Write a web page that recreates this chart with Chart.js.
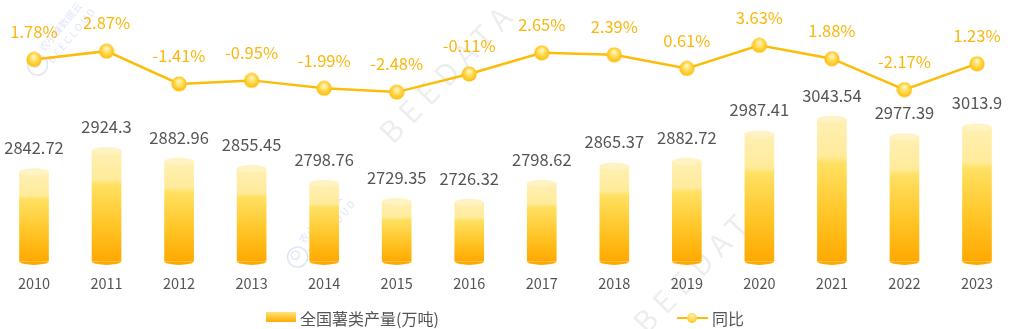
<!DOCTYPE html>
<html>
<head>
<meta charset="utf-8">
<script src="https://cdn.jsdelivr.net/npm/chart.js@4.4.1/dist/chart.umd.min.js"></script>
<style>
    body { margin: 0; background: #fff; }
    #wrap { position: relative; width: 1012px; height: 329px; font-family: "Noto Sans CJK SC", "Noto Sans", sans-serif; }
    #myChart { position: absolute; left: 0; top: 0; }
    .lg-text { position: absolute; top: 307px; font-size: 16px; line-height: 22px; color: #555; }
    #lgBar { position: absolute; left: 266px; top: 312px; width: 30px; height: 10px; background: linear-gradient(#ffe27a, #ffad00); }
    #lgLine { position: absolute; left: 677px; top: 317px; width: 31px; height: 2px; background: #fbbd0a; }
    #lgDot { position: absolute; left: 687px; top: 313px; width: 10px; height: 10px; border-radius: 50%; background: radial-gradient(circle at 50% 30%, #fff0a8, #ffbb00); }
</style>
</head>
<body>
<div id="wrap">
    <canvas id="myChart" width="1012" height="329"></canvas>
    <div id="lgBar"></div>
    <div class="lg-text" style="left:300px;">全国薯类产量(万吨)</div>
    <div id="lgLine"></div>
    <div id="lgDot"></div>
    <div class="lg-text" style="left:712px;">同比</div>
</div>
<script>
var years = ['2010', '2011', '2012', '2013', '2014', '2015', '2016', '2017', '2018', '2019', '2020', '2021', '2022', '2023'];
var output = [2842.72, 2924.3, 2882.96, 2855.45, 2798.76, 2729.35, 2726.32, 2798.62, 2865.37, 2882.72, 2987.41, 3043.54, 2977.39, 3013.9];
var yoy = [1.78, 2.87, -1.41, -0.95, -1.99, -2.48, -0.11, 2.65, 2.39, 0.61, 3.63, 1.88, -2.17, 1.23];

var FONT = '"Noto Sans CJK SC", "Noto Sans", sans-serif';

// little gradient ball used as the point style of the line
function makeDot() {
    var c = document.createElement('canvas');
    c.width = 16; c.height = 16;
    var g = c.getContext('2d');
    var grad = g.createRadialGradient(8, 5, 1, 8, 8, 8);
    grad.addColorStop(0, '#fff3b8');
    grad.addColorStop(0.5, '#ffd84a');
    grad.addColorStop(1, '#ffb800');
    g.fillStyle = grad;
    g.beginPath();
    g.arc(8, 8, 7.6, 0, Math.PI * 2);
    g.fill();
    return c;
}

function barGradient(context) {
    var chart = context.chart;
    var ys = chart.scales.y;
    if (!chart.chartArea || !ys) return '#ffcc33';
    var top = ys.getPixelForValue(context.raw);
    var base = ys.bottom;
    var g = chart.ctx.createLinearGradient(0, top, 0, base);
    g.addColorStop(0, '#fff0b4');
    g.addColorStop(0.26, '#ffeb9a');
    g.addColorStop(0.31, '#ffe062');
    g.addColorStop(0.65, '#ffc72a');
    g.addColorStop(1, '#ffa900');
    return g;
}

// watermark drawn under the data
var watermark = {
    id: 'watermark',
    beforeDatasetsDraw: function (chart) {
        var c = chart.ctx;
        c.save();
        c.font = '30px ' + FONT;
        c.fillStyle = 'rgba(0,0,0,0.07)';
        c.textAlign = 'center';
        c.textBaseline = 'middle';
        c.letterSpacing = '8px';
        [[448, 72], [702, 262]].forEach(function (p) {
            c.save();
            c.translate(p[0], p[1]);
            c.rotate(-46 * Math.PI / 180);
            c.fillText('BEEDATA', 0, 0);
            c.restore();
        });
        c.letterSpacing = '0px';
        c.font = '10px ' + FONT;
        c.fillStyle = 'rgba(90,120,230,0.2)';
        c.strokeStyle = 'rgba(90,120,230,0.2)';
        c.lineWidth = 1.5;
        [[62, 36], [322, 228]].forEach(function (p) {
            c.save();
            c.translate(p[0], p[1]);
            c.rotate(-50 * Math.PI / 180);
            c.fillText('农小蜂数据云', 6, -7);
            c.fillText('B E E C L O U D', 6, 7);
            c.beginPath();
            c.arc(-38, 0, 10, 0, Math.PI * 2);
            c.stroke();
            c.beginPath();
            c.arc(-38, -3, 4, 0, Math.PI * 2);
            c.stroke();
            c.restore();
        });
        c.restore();
    }
};

// cylinder caps on the bars and the value labels
var decorate = {
    id: 'decorate',
    afterDatasetDraw: function (chart, args) {
        if (args.index !== 0) return;
        var c = chart.ctx;
        var bottom = chart.chartArea.bottom;
        args.meta.data.forEach(function (bar) {
            var hw = bar.width / 2;
            c.save();
            c.fillStyle = '#ffa900';
            c.beginPath();
            c.ellipse(bar.x, bottom, hw, 3.5, 0, 0, Math.PI);
            c.fill();
            c.fillStyle = '#fff3c4';
            c.beginPath();
            c.ellipse(bar.x, bar.y, hw, 3.5, 0, 0, Math.PI * 2);
            c.fill();
            c.restore();
        });
    },
    afterDatasetsDraw: function (chart) {
        var c = chart.ctx;
        c.save();
        c.textAlign = 'center';
        c.textBaseline = 'middle';
        c.font = '16.5px ' + FONT;
        c.fillStyle = '#555555';
        chart.getDatasetMeta(0).data.forEach(function (bar, i) {
            c.fillText(String(output[i]), bar.x, bar.y - 24);
        });
        c.fillStyle = '#f9b70d';
        chart.getDatasetMeta(1).data.forEach(function (pt, i) {
            c.fillText(yoy[i].toFixed(2) + '%', pt.x, pt.y - 28);
        });
        c.restore();
    }
};

var ctx = document.getElementById('myChart');
var myChart = new Chart(ctx, {
    data: {
        labels: years,
        datasets: [{
            type: 'bar',
            label: '全国薯类产量(万吨)',
            data: output,
            yAxisID: 'y',
            backgroundColor: barGradient,
            borderWidth: 0,
            barThickness: 29,
            clip: { left: 20, top: 20, right: 20, bottom: 0 },
            order: 2
        }, {
            type: 'line',
            label: '同比',
            data: yoy,
            yAxisID: 'y2',
            borderColor: '#fbbd0a',
            borderWidth: 2.5,
            pointStyle: makeDot(),
            pointRadius: 8,
            tension: 0,
            clip: false,
            order: 1
        }]
    },
    options: {
        responsive: false,
        animation: false,
        devicePixelRatio: 1,
        layout: { padding: { top: 10, left: 34, right: 35, bottom: 23 } },
        plugins: {
            legend: { display: false },
            tooltip: { enabled: false }
        },
        scales: {
            x: {
                offset: false,
                grid: { display: false, drawTicks: false },
                border: { display: false },
                ticks: { color: '#555555', padding: 13.6, font: { size: 14.5, family: FONT } }
            },
            y: { display: false, min: 2500, max: 3460 },
            y2: { display: false, min: -24.6, max: 8.18 }
        }
    },
    plugins: [watermark, decorate]
});
</script>
</body>
</html>
